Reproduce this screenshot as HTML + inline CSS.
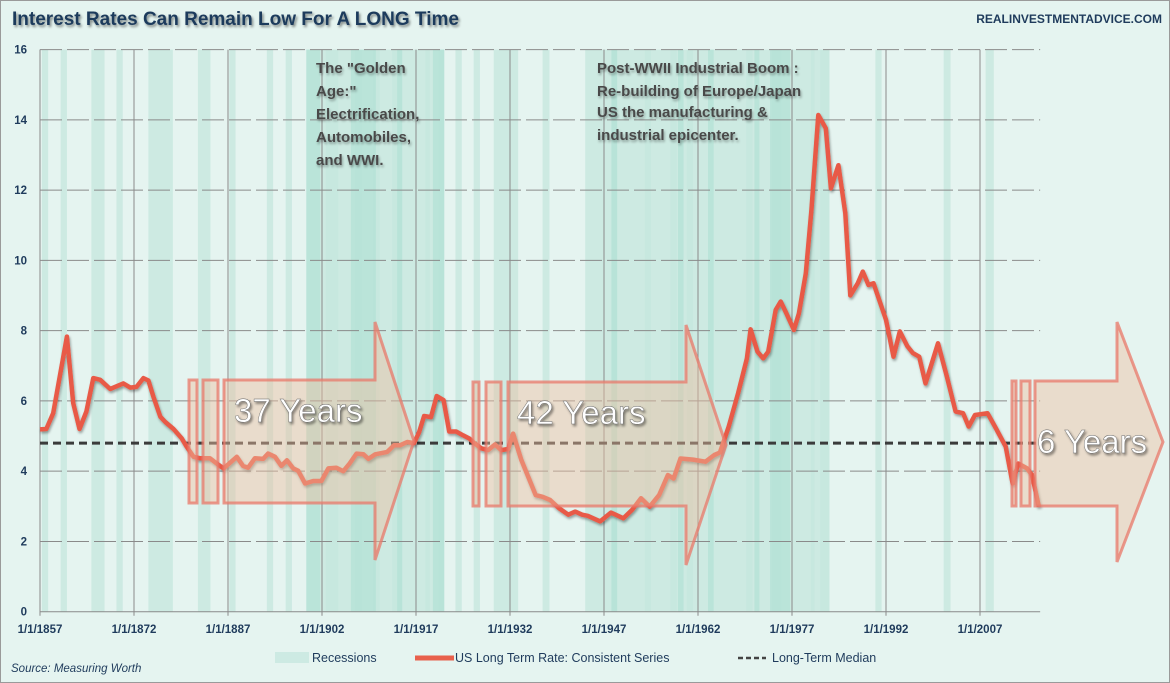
<!DOCTYPE html>
<html><head><meta charset="utf-8">
<style>
body{margin:0;background:#fff;}
#wrap{width:1170px;height:683px;position:relative;overflow:hidden;font-family:"Liberation Sans",sans-serif;}
svg text{font-family:"Liberation Sans",sans-serif;}
</style></head>
<body>
<div id="wrap">
<svg id="chart" width="1170" height="683">
<defs>
<filter id="sh" x="-10%" y="-10%" width="130%" height="130%"><feDropShadow dx="1.5" dy="2" stdDeviation="1.2" flood-color="#000" flood-opacity="0.45"/></filter>
<filter id="lsh" x="-5%" y="-5%" width="110%" height="110%"><feDropShadow dx="1" dy="2" stdDeviation="1.2" flood-color="#000" flood-opacity="0.35"/></filter>
</defs>
<rect x="0.5" y="0.5" width="1169" height="682" fill="#e5f4f0" stroke="#9a9a9a"/>
<text x="12" y="25" font-size="19" font-weight="bold" fill="#1f3b5c" filter="url(#sh)">Interest Rates Can Remain Low For A LONG Time</text>
<text x="1162" y="23" font-size="12" font-weight="bold" fill="#1f3b5c" text-anchor="end">REALINVESTMENTADVICE.COM</text>
<g id="bands"></g>
<g id="grid"></g>
<g id="series"></g>
<g id="arrows"></g>
<g id="labels"></g>
<text font-size="15" font-weight="bold" fill="#4a4a4a" filter="url(#lsh)">
<tspan x="316" y="73">The "Golden</tspan><tspan x="316" y="96">Age:"</tspan><tspan x="316" y="119">Electrification,</tspan><tspan x="316" y="142">Automobiles,</tspan><tspan x="316" y="165">and WWI.</tspan></text>
<text font-size="15" font-weight="bold" fill="#4a4a4a" filter="url(#lsh)">
<tspan x="597" y="73">Post-WWII Industrial Boom :</tspan><tspan x="597" y="96">Re-building of Europe/Japan</tspan><tspan x="597" y="117">US the manufacturing &amp;</tspan><tspan x="597" y="140">industrial epicenter.</tspan></text>
<g>
<rect x="275" y="652" width="34" height="11" fill="#cdeae3"/>
<text x="312" y="662" font-size="12.5" fill="#1f3b5c">Recessions</text>
<line x1="415" y1="658" x2="454" y2="658" stroke="#e8604c" stroke-width="5"/>
<text x="455" y="662" font-size="12.5" fill="#1f3b5c">US Long Term Rate:  Consistent Series</text>
<line x1="738" y1="658" x2="766" y2="658" stroke="#444" stroke-width="2.5" stroke-dasharray="5,3"/>
<text x="772" y="662" font-size="12.5" fill="#1f3b5c">Long-Term Median</text>
</g>
<text x="11" y="672" font-size="11.5" font-style="italic" fill="#1f3b5c">Source: Measuring Worth</text>
</svg>
</div>
<script>
const years=[1857,1858,1859.1,1861.3,1862.3,1863.3,1864.4,1865.5,1866.6,1868.2,1870.3,1871.4,1872.4,1873.5,1874.3,1875.1,1876.2,1877,1878.3,1879.6,1880.4,1881.5,1882.5,1884.1,1885.2,1886.3,1888.4,1889.4,1890.2,1891.3,1892.6,1893.4,1894.5,1895.5,1896.4,1897.4,1898.2,1899.3,1900.6,1901.9,1903,1904.3,1905.4,1906.4,1907.5,1908.6,1909.4,1910.5,1912.4,1913.5,1914.5,1915.6,1916.7,1917.5,1918.3,1919.4,1920.3,1921.4,1922.3,1923.4,1924.5,1925.5,1926.3,1927.4,1928.5,1929.6,1930.6,1931.7,1932.5,1933.8,1936.1,1937.2,1938.4,1939.8,1941.3,1942.4,1943.5,1944.4,1946.4,1948.1,1950.1,1951.5,1952.9,1954.3,1955.8,1957.2,1958.1,1959.2,1961.2,1963.2,1964.6,1965.5,1966.9,1968.4,1969.8,1970.4,1971.5,1972.4,1973.2,1974.4,1975.2,1976.1,1977.3,1978.1,1979.2,1980.1,1981.2,1982.4,1983.2,1984.4,1985.5,1986.3,1987.5,1988.3,1989.2,1990.0,1992.0,1993.2,1994.2,1995.4,1996.3,1997.3,1998.3,2000.3,2001.7,2003.1,2004.3,2005.2,2006.2,2008.2,2009.4,2011.1,2012.2,2013.1,2014.5,2015.3,2016.4];
const rates=[5.19,5.2,5.65,7.83,5.94,5.2,5.7,6.65,6.6,6.34,6.5,6.38,6.4,6.65,6.58,6.12,5.55,5.4,5.2,4.94,4.7,4.41,4.37,4.37,4.22,4.08,4.41,4.15,4.1,4.37,4.35,4.5,4.41,4.15,4.31,4.08,4.01,3.65,3.72,3.72,4.08,4.1,4.0,4.22,4.5,4.48,4.35,4.48,4.55,4.74,4.74,4.83,4.8,5.11,5.57,5.54,6.14,6.02,5.13,5.13,5.02,4.93,4.8,4.65,4.6,4.76,4.6,4.63,5.07,4.32,3.32,3.27,3.18,2.95,2.76,2.85,2.76,2.73,2.57,2.82,2.66,2.9,3.23,2.99,3.32,3.89,3.79,4.36,4.33,4.27,4.46,4.53,5.27,6.22,7.21,8.04,7.4,7.21,7.4,8.59,8.83,8.49,8.02,8.49,9.63,11.43,14.14,13.76,12.05,12.71,11.34,9.0,9.35,9.68,9.3,9.35,8.31,7.26,7.98,7.56,7.36,7.26,6.5,7.64,6.7,5.7,5.65,5.27,5.6,5.65,5.27,4.7,3.65,4.22,4.08,3.89,2.99];
const medianValue=[4.8];
const yTicks=[0,2,4,6,8,10,12,14,16];
const xTickYears=[1857,1872,1887,1902,1917,1932,1947,1962,1977,1992,2007];
const xTickLabels=["1/1/1857","1/1/1872","1/1/1887","1/1/1902","1/1/1917","1/1/1932","1/1/1947","1/1/1962","1/1/1977","1/1/1992","1/1/2007"];
const recStart=[1857.3,1860.3,1865.2,1869.2,1874.3,1882.2,1887.2,1893.2,1896.2,1899.5,1902.6,1907.3,1910.2,1913.2,1918.5,1920.6,1923.3,1926.2,1929.4,1937.2,1944,1948.1,1953.5,1957.6,1960.2,1969.7,1973.8,1980,1981.5,1990.3,2001.2,2007.9];
const recEnd=[1858.3,1861.3,1867.3,1870.2,1878.2,1884.2,1888.2,1894.2,1897.2,1921.5,1904.6,1908.3,1911.2,1914.7,1919.2,1921.5,1924.3,1927.2,1933.3,1938.3,1983,1949.1,1954.5,1958.6,1961.2,1970.7,1975.3,1980.6,1982.9,1991.3,2002.3,2009.2];
const darkStart=[1899.5,1906.6,1914,1919.7,1948.2,1958.8,1963.6,1971,1973.5];
const darkEnd=[1901.7,1910.6,1914.8,1921.5,1949.1,1959.7,1964.5,1971.8,1976.7];

const NS="http://www.w3.org/2000/svg";
const X0=40,PXY=94/15,Y0=611.7,PXV=35.13;
function xs(y){return X0+(y-1857)*PXY;}
function ys(v){return Y0-v*PXV;}
function mk(tag,attrs,parent){const e=document.createElementNS(NS,tag);for(const k in attrs)e.setAttribute(k,attrs[k]);parent.appendChild(e);return e;}
const yTop=ys(16),yBot=ys(0);
const bands=document.getElementById('bands');
recStart.forEach((s,i)=>{
 const r=mk('rect',{x:xs(s),y:yTop,width:xs(recEnd[i])-xs(s),height:yBot-yTop,fill:'#c4e7de','fill-opacity':0.75},bands);
 
 
});
darkStart.forEach((s,i)=>{
 const r=mk('rect',{x:xs(s),y:yTop,width:xs(darkEnd[i])-xs(s),height:yBot-yTop,fill:'#aee0d3','fill-opacity':0.6},bands);
 
 
});
const grid=document.getElementById('grid');
const labels=document.getElementById('labels');
const xEnd=xs(2016.6);
yTicks.forEach(t=>{
 const l=mk('line',{x1:X0,x2:xEnd,y1:ys(t),y2:ys(t),stroke:'#8a8a8a','stroke-width':1,'stroke-dasharray':t==0?'none':'22,5'},grid);
 
 
 const tx=mk('text',{x:27,y:ys(t)+4,'font-size':11.5,'font-weight':'bold',fill:'#1f3b5c','text-anchor':'end'},labels);
 tx.textContent=t;
 
 
});
const ya=mk('line',{x1:X0,x2:X0,y1:yTop,y2:yBot,stroke:'#8a8a8a'},grid);


xTickYears.forEach((yr,i)=>{
 const l=mk('line',{x1:xs(yr),x2:xs(yr),y1:yTop,y2:yBot+4,stroke:'#8a8a8a','stroke-width':1},grid);
 
 
 const tx=mk('text',{x:xs(yr),y:633,'font-size':11.5,'font-weight':'bold',fill:'#1f3b5c','text-anchor':'middle'},labels);
 tx.textContent=xTickLabels[i];
 
 
});
const ml=mk('line',{x1:X0,x2:xs(2016.6),y1:ys(medianValue[0]),y2:ys(medianValue[0]),stroke:'#3b3b3b','stroke-width':3,'stroke-dasharray':'8,5'},document.getElementById('series'));


const pts=years.map((y,i)=>xs(y).toFixed(1)+','+ys(rates[i]).toFixed(1)).join(' ');
const pl=mk('polyline',{points:pts,fill:'none',stroke:'#e85a46','stroke-width':4.5,'stroke-linejoin':'round',filter:'url(#lsh)'},document.getElementById('series'));


const arrows=document.getElementById('arrows');
function arrow(name,boxes,bx0,bx1,yt,yb,ht,hb,tip,label,lx,ly){
 const g=mk('g',{},arrows);
 
 
 boxes.forEach(b=>{const r=mk('rect',{x:b[0],y:yt,width:b[1]-b[0],height:yb-yt,fill:'rgba(238,190,160,0.45)',stroke:'rgba(232,120,105,0.75)','stroke-width':3},g);
  
  });
 const ym=(ht+hb)/2;
 const p=mk('polygon',{points:`${bx0},${yt} ${bx1},${yt} ${bx1},${ht} ${tip},${ym} ${bx1},${hb} ${bx1},${yb} ${bx0},${yb}`,fill:'rgba(238,190,160,0.45)',stroke:'rgba(232,120,105,0.75)','stroke-width':3},g);
 
 
 const t=mk('text',{x:lx,y:ly,'font-size':33,fill:'#fff',stroke:'#666','stroke-width':0.4,filter:'url(#sh)'},g);
 t.textContent=label;
 
 
}
arrow('arrow-37-years',[[189,197],[203,218]],224,375,380,503,322,560,414,'37 Years',234,422);
arrow('arrow-42-years',[[473,479],[486,501]],508,686,382,506,325,565,726,'42 Years',517,424);
arrow('arrow-6-years',[[1012,1016],[1021,1030]],1035,1117,381,506,322,562,1163,'6 Years',1037,453);
</script>
</body></html>
